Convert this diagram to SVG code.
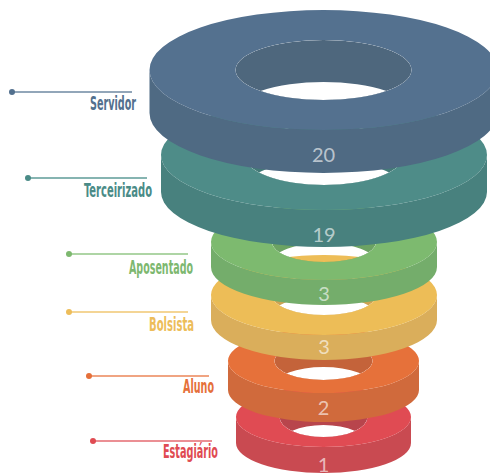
<svg xmlns="http://www.w3.org/2000/svg" width="490" height="476" viewBox="0 0 490 476">
<style>
.lbl{font-family:'DejaVu Sans Condensed','DejaVu Sans','Liberation Sans',sans-serif;font-stretch:condensed;font-weight:bold;font-size:19px;text-anchor:end}
.num{font-family:Lato,'Open Sans','Noto Sans',sans-serif;font-size:20px;text-anchor:middle;fill:#fff;fill-opacity:0.62}
.ln{stroke-width:1.4;fill:none}
</style>
<defs>
<clipPath id="h-red"><ellipse cx="323.5" cy="417" rx="44" ry="20"/></clipPath>
<clipPath id="h-ora"><ellipse cx="323.5" cy="361" rx="49" ry="19"/></clipPath>
<clipPath id="h-yel"><ellipse cx="324" cy="295" rx="52" ry="20"/></clipPath>
<clipPath id="h-gre"><ellipse cx="324" cy="242" rx="52" ry="20"/></clipPath>
<clipPath id="h-tea"><ellipse cx="324" cy="155" rx="80" ry="30"/></clipPath>
<clipPath id="h-blu"><ellipse cx="323.5" cy="70" rx="88" ry="30"/></clipPath>
</defs>

<g id="ring-estagiario">
<path fill="#C94A51" d="M236,417 V443 A87.5 30 0 0 0 411,443 V417 A87.5 30 0 0 1 236,417 Z"/>
<path fill="#E04B53" fill-rule="evenodd" d="M236,417 A87.5 30 0 1 1 411,417 A87.5 30 0 1 1 236,417 Z M279.5,417 A44 20 0 1 0 367.5,417 A44 20 0 1 0 279.5,417 Z"/>
<path fill="#B8454C" fill-rule="evenodd" clip-path="url(#h-red)" d="M279.5,417 A44 20 0 1 0 367.5,417 A44 20 0 1 0 279.5,417 Z M279.5,445 A44 20 0 1 0 367.5,445 A44 20 0 1 0 279.5,445 Z"/>
<text class="num" x="323.5" y="472">1</text>
</g>

<g id="ring-aluno">
<path fill="#D06A3C" d="M228,361 V390 A95.5 32 0 0 0 419,390 V361 A95.5 32 0 0 1 228,361 Z"/>
<path fill="#E6713A" fill-rule="evenodd" d="M228,361 A95.5 32 0 1 1 419,361 A95.5 32 0 1 1 228,361 Z M274.5,361 A49 19 0 1 0 372.5,361 A49 19 0 1 0 274.5,361 Z"/>
<path fill="#C4633A" fill-rule="evenodd" clip-path="url(#h-ora)" d="M274.5,361 A49 19 0 1 0 372.5,361 A49 19 0 1 0 274.5,361 Z M274.5,386 A49 19 0 1 0 372.5,386 A49 19 0 1 0 274.5,386 Z"/>
<text class="num" x="323.5" y="415">2</text>
</g>

<g id="ring-bolsista">
<path fill="#DAAE5B" d="M211,295 V320 A113 40 0 0 0 437,320 V295 A113 40 0 0 1 211,295 Z"/>
<path fill="#EDBD57" fill-rule="evenodd" d="M211,295 A113 40 0 1 1 437,295 A113 40 0 1 1 211,295 Z M272,295 A52 20 0 1 0 376,295 A52 20 0 1 0 272,295 Z"/>
<path fill="#CFA352" fill-rule="evenodd" clip-path="url(#h-yel)" d="M272,295 A52 20 0 1 0 376,295 A52 20 0 1 0 272,295 Z M272,316 A52 20 0 1 0 376,316 A52 20 0 1 0 272,316 Z"/>
<text class="num" x="324" y="354">3</text>
</g>

<g id="ring-aposentado">
<path fill="#74AD6B" d="M211,242 V267 A113 38 0 0 0 437,267 V242 A113 38 0 0 1 211,242 Z"/>
<path fill="#7DBA6F" fill-rule="evenodd" d="M211,242 A113 38 0 1 1 437,242 A113 38 0 1 1 211,242 Z M272,242 A52 20 0 1 0 376,242 A52 20 0 1 0 272,242 Z"/>
<path fill="#6CA363" fill-rule="evenodd" clip-path="url(#h-gre)" d="M272,242 A52 20 0 1 0 376,242 A52 20 0 1 0 272,242 Z M272,263 A52 20 0 1 0 376,263 A52 20 0 1 0 272,263 Z"/>
<text class="num" x="324" y="301">3</text>
</g>

<g id="ring-terceirizado">
<path fill="#48817E" d="M161,155 V192 A163 55 0 0 0 487,192 V155 A163 55 0 0 1 161,155 Z"/>
<path fill="#4E8C88" fill-rule="evenodd" d="M161,155 A163 55 0 1 1 487,155 A163 55 0 1 1 161,155 Z M244,155 A80 30 0 1 0 404,155 A80 30 0 1 0 244,155 Z"/>
<path fill="#447A77" fill-rule="evenodd" clip-path="url(#h-tea)" d="M244,155 A80 30 0 1 0 404,155 A80 30 0 1 0 244,155 Z M244,190 A80 30 0 1 0 404,190 A80 30 0 1 0 244,190 Z"/>
<text class="num" x="324" y="242">19</text>
</g>

<g id="ring-servidor">
<path fill="#4F6A83" d="M149.5,70 V113 A174 60 0 0 0 497.5,113 V70 A174 60 0 0 1 149.5,70 Z"/>
<path fill="#54718F" fill-rule="evenodd" d="M149.5,70 A174 60 0 1 1 497.5,70 A174 60 0 1 1 149.5,70 Z M235.5,70 A88 30 0 1 0 411.5,70 A88 30 0 1 0 235.5,70 Z"/>
<path fill="#4E677D" fill-rule="evenodd" clip-path="url(#h-blu)" d="M235.5,70 A88 30 0 1 0 411.5,70 A88 30 0 1 0 235.5,70 Z M235.5,112 A88 30 0 1 0 411.5,112 A88 30 0 1 0 235.5,112 Z"/>
<text class="num" x="323.5" y="162">20</text>
</g>

<g id="connectors">
<line class="ln" stroke="#6E88A2" x1="12" y1="92" x2="132" y2="92"/><circle cx="12" cy="92" r="3" fill="#52708E"/>
<line class="ln" stroke="#5E9B97" x1="28" y1="178" x2="147" y2="178"/><circle cx="28" cy="178" r="3" fill="#4A8B87"/>
<line class="ln" stroke="#93C787" x1="69" y1="254" x2="188" y2="254"/><circle cx="69" cy="254" r="3" fill="#7DB86F"/>
<line class="ln" stroke="#F0C772" x1="69" y1="312" x2="188" y2="312"/><circle cx="69" cy="312" r="3" fill="#EDBD5A"/>
<line class="ln" stroke="#EB8659" x1="89" y1="376" x2="209" y2="376"/><circle cx="89" cy="376" r="3" fill="#E5703A"/>
<line class="ln" stroke="#E56A70" x1="93" y1="441" x2="212" y2="441"/><circle cx="93" cy="441" r="3" fill="#E04B52"/>
</g>

<g id="labels">
<text class="lbl" x="136" y="110" fill="#52708E" textLength="46" lengthAdjust="spacingAndGlyphs">Servidor</text>
<text class="lbl" x="152" y="197" fill="#4A8B87" textLength="68" lengthAdjust="spacingAndGlyphs">Terceirizado</text>
<text class="lbl" x="193" y="274" fill="#7DB86F" textLength="64" lengthAdjust="spacingAndGlyphs">Aposentado</text>
<text class="lbl" x="194" y="331" fill="#EDBD5A" textLength="45" lengthAdjust="spacingAndGlyphs">Bolsista</text>
<text class="lbl" x="214" y="393" fill="#E5703A" textLength="31" lengthAdjust="spacingAndGlyphs">Aluno</text>
<text class="lbl" x="218" y="458" fill="#E04B52" textLength="55" lengthAdjust="spacingAndGlyphs">Estagiário</text>
</g>
</svg>
